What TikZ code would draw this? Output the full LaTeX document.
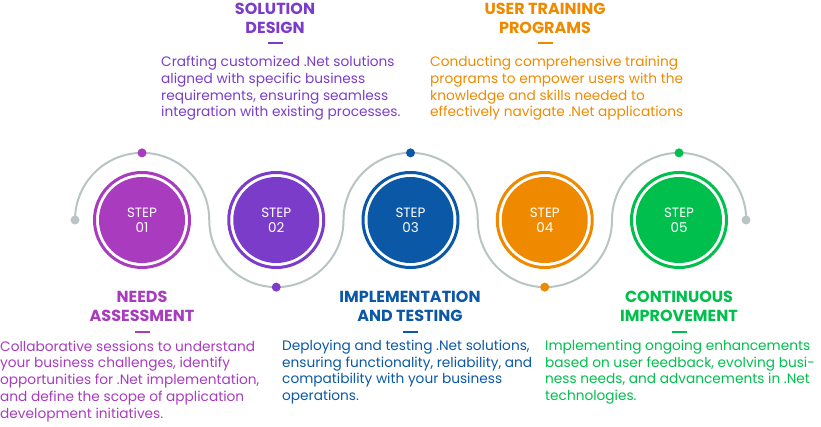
\documentclass[tikz,border=0pt]{standalone}
\usepackage{fontspec}
\setmainfont{Poppins}
\usetikzlibrary{positioning}

\definecolor{colA}{HTML}{A83BBE}
\definecolor{colB}{HTML}{7B3DC9}
\definecolor{colC}{HTML}{0A58A6}
\definecolor{colD}{HTML}{EF8A00}
\definecolor{colE}{HTML}{00BF4D}
\definecolor{track}{HTML}{B9C4C4}

\tikzset{
  stepdisc/.style={circle, fill=#1, minimum size=86pt, inner sep=0pt,
    text=white, align=center, font=\fontsize{13.5}{15}\selectfont},
  steptitle/.style={text=#1, align=center, inner sep=0pt,
    font=\fontsize{16}{19}\selectfont\bfseries},
  stepbar/.style={fill=#1, minimum width=15pt, minimum height=2pt, inner sep=0pt},
  stepbody/.style={text=#1, align=left, inner sep=0pt,
    font=\fontsize{13.7}{16.75}\selectfont},
}

\begin{document}
\begin{tikzpicture}[x=1pt, y=1pt]
  \useasboundingbox (0,0) rectangle (821,426);

  % winding track
  \draw[track, line width=2pt] (75,206)
    arc[start angle=180, end angle=0, radius=67.125]
    arc[start angle=180, end angle=360, radius=67.125]
    arc[start angle=180, end angle=0, radius=67.125]
    arc[start angle=180, end angle=360, radius=67.125]
    arc[start angle=180, end angle=0, radius=67.125];
  \fill[track] (75,206) circle (4.5);
  \fill[track] (746,206) circle (4.5);

  % step discs
  \node[stepdisc=colA] (s1) at (142,206) {STEP\\01};
  \node[stepdisc=colB] (s2) at (276.25,206) {STEP\\02};
  \node[stepdisc=colC] (s3) at (410.5,206) {STEP\\03};
  \node[stepdisc=colD] (s4) at (544.75,206) {STEP\\04};
  \node[stepdisc=colE] (s5) at (679,206) {STEP\\05};
  \draw[colA, line width=3pt] (s1.center) circle (47.5);
  \draw[colB, line width=3pt] (s2.center) circle (47.5);
  \draw[colC, line width=3pt] (s3.center) circle (47.5);
  \draw[colD, line width=3pt] (s4.center) circle (47.5);
  \draw[colE, line width=3pt] (s5.center) circle (47.5);

  % dots on the track
  \fill[colA] (142,273.125) circle (4.5);
  \fill[colB] (276.25,138.875) circle (4.5);
  \fill[colC] (410.5,273.125) circle (4.5);
  \fill[colD] (544.75,138.875) circle (4.5);
  \fill[colE] (679,273.125) circle (4.5);

  % upper captions
  \node[steptitle=colB, anchor=base] (t2) at (275,392.5) {SOLUTION\\DESIGN};
  \node[stepbar=colB] (b2) at (275,383) {};
  \node[stepbody=colB, anchor=base west] (d2) at (161,309)
    {Crafting customized .Net solutions\\aligned with specific business\\requirements, ensuring seamless\\integration with existing processes.};

  \node[steptitle=colD, anchor=base] (t4) at (545,392.5) {USER TRAINING\\PROGRAMS};
  \node[stepbar=colD] (b4) at (545,383) {};
  \node[stepbody=colD, anchor=base west] (d4) at (430,309)
    {Conducting comprehensive training\\programs to empower users with the\\knowledge and skills needed to\\effectively navigate .Net applications};

  % lower captions
  \node[steptitle=colA, anchor=base] (t1) at (142,104.5) {NEEDS\\ASSESSMENT};
  \node[stepbar=colA] (b1) at (142,94) {};
  \node[stepbody=colA, anchor=base west] (d1) at (0,8)
    {Collaborative sessions to understand\\your business challenges, identify\\opportunities for .Net implementation,\\and define the scope of application\\development initiatives.};

  \node[steptitle=colC, anchor=base] (t3) at (410,104.5) {IMPLEMENTATION\\AND TESTING};
  \node[stepbar=colC] (b3) at (410,94) {};
  \node[stepbody=colC, anchor=base west] (d3) at (282,25.3)
    {Deploying and testing .Net solutions,\\ensuring functionality, reliability, and\\compatibility with your business\\operations.};

  \node[steptitle=colE, anchor=base] (t5) at (679,104.5) {CONTINUOUS\\IMPROVEMENT};
  \node[stepbar=colE] (b5) at (679,94) {};
  \node[stepbody=colE, anchor=base west] (d5) at (545,25.3)
    {Implementing ongoing enhancements\\based on user feedback, evolving busi-\\ness needs, and advancements in .Net\\technologies.};
\end{tikzpicture}
\end{document}
